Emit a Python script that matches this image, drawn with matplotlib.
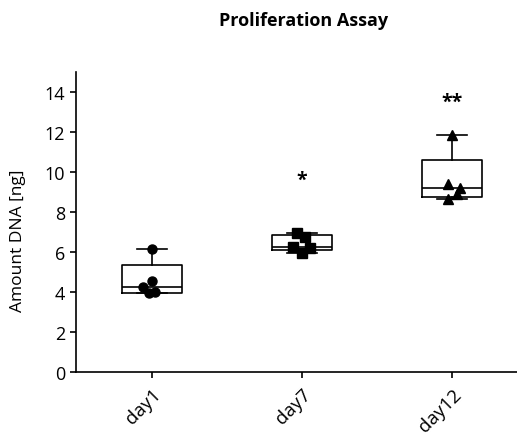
import numpy as np
import matplotlib
matplotlib.use("Agg")
import matplotlib.pyplot as plt
import matplotlib.transforms as mtransforms
from matplotlib import cbook

plt.rcParams['font.family'] = ['Open Sans', 'DejaVu Sans']

categories = ["day1", "day7", "day12"]
day1 = [6.15, 4.55, 4.28, 4.00, 3.95]
day7 = [6.95, 6.77, 6.28, 6.23, 5.98]
day12 = [11.85, 9.40, 9.22, 8.92, 8.65]
series = [day1, day7, day12]
significance = ["", "*", "**"]
sig_heights = [None, 9.6, 13.5]
title = "Proliferation Assay"
ylabel = "Amount DNA [ng]"
yticks = [0, 2, 4, 6, 8, 10, 12, 14]

# horizontal scatter of points (style)
jitter = [[0.0, 0.0, -0.06, 0.02, -0.02],
          [-0.035, 0.02, -0.06, 0.055, 0.0],
          [0.0, -0.03, 0.055, 0.03, -0.03]]
markers = ["o", "s", "^"]

fig = plt.figure(figsize=(5.17, 4.39), dpi=100)
ax = fig.add_axes([0.147, 0.150, 0.853, 0.683])

positions = np.arange(len(categories))
stats = []
for d in series:
    s = cbook.boxplot_stats(np.asarray(d), whis=(0, 100))[0]
    q1, med, q3 = np.percentile(d, [25, 50, 75], method="weibull")
    s["q1"], s["med"], s["q3"] = q1, med, q3
    s["whislo"], s["whishi"] = min(d), max(d)
    stats.append(s)

lw = 1.2
ax.bxp(stats, positions=positions, widths=0.4, showfliers=False,
       boxprops=dict(color="black", linewidth=lw),
       whiskerprops=dict(color="black", linewidth=lw),
       capprops=dict(color="black", linewidth=lw),
       medianprops=dict(color="black", linewidth=lw),
       capwidths=0.2, manage_ticks=False)

for i, d in enumerate(series):
    xs = positions[i] + np.array(jitter[i])
    ax.plot(xs, d, linestyle="none", marker=markers[i], color="black",
            markersize=6.5 if markers[i] != "^" else 7, zorder=3)
    if significance[i]:
        ax.text(positions[i], sig_heights[i], significance[i], ha="center",
                va="center", fontsize=14, fontweight="bold")

ax.set_xlim(-0.507, 2.433)
ax.set_ylim(0, 15)
ax.set_yticks(yticks)
ax.set_yticklabels([str(t) for t in yticks], fontsize=13)
ax.set_xticks(positions)
ax.set_xticklabels(categories, rotation=45, ha="right", rotation_mode="anchor", fontsize=13.5)
offset = mtransforms.ScaledTranslation(-4 / 72, 0, fig.dpi_scale_trans)
for lab in ax.get_xticklabels():
    lab.set_transform(lab.get_transform() + offset)
ax.spines["top"].set_visible(False)
ax.spines["right"].set_visible(False)
for sp in ["left", "bottom"]:
    ax.spines[sp].set_linewidth(1.2)
ax.tick_params(axis="both", direction="out", length=4, width=1.2)
ax.tick_params(axis="y", pad=4)
ax.tick_params(axis="x", pad=5)
ax.set_ylabel(ylabel, fontsize=12.5)
ax.yaxis.set_label_coords(-0.114, 0.443)
fig.text(0.588, 0.952, title, ha="center", va="center", fontsize=13, fontweight="bold")

fig.savefig("out.png", dpi=100)
